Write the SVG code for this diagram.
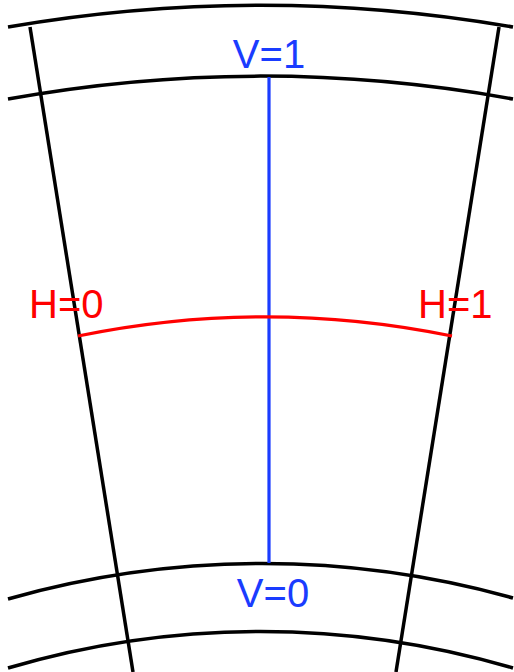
<svg xmlns="http://www.w3.org/2000/svg" width="514" height="672" viewBox="0 0 514 672">
<style>
.k{fill:none;stroke:#000;stroke-width:3.5}
.b{fill:none;stroke:#1a3cff;stroke-width:3.2}
.r{fill:none;stroke:#ff0000;stroke-width:3.2}
text{font-family:"Liberation Sans",Arial,sans-serif;font-size:40px}
.bt{fill:#1a3cff}
.rt{fill:#ff0000}
</style>
<rect width="514" height="672" fill="#fff"/>
<g id="grid">
<path class="k" d="M8,27 A1486,1486 0 0 1 513,27"/>
<path class="k" d="M8,99 A1416,1416 0 0 1 513,99"/>
<path class="k" d="M8,599 A930,930 0 0 1 513,598"/>
<path class="k" d="M8,668 A890,890 0 0 1 513,668"/>
<path class="k" d="M30,27 L133,672"/>
<path class="k" d="M499,27 L396,672"/>
</g>
<g id="connectors">
<path id="v-line" class="b" d="M269,77 L269,563"/>
<path id="h-line" class="r" d="M78,336 A930,930 0 0 1 452,336"/>
</g>
<g id="labels">
<text class="bt" x="269" y="68" text-anchor="middle">V=1</text>
<text class="bt" x="273" y="607" text-anchor="middle">V=0</text>
<text class="rt" x="29" y="318">H=0</text>
<text class="rt" x="418" y="318">H=1</text>
</g>
</svg>
